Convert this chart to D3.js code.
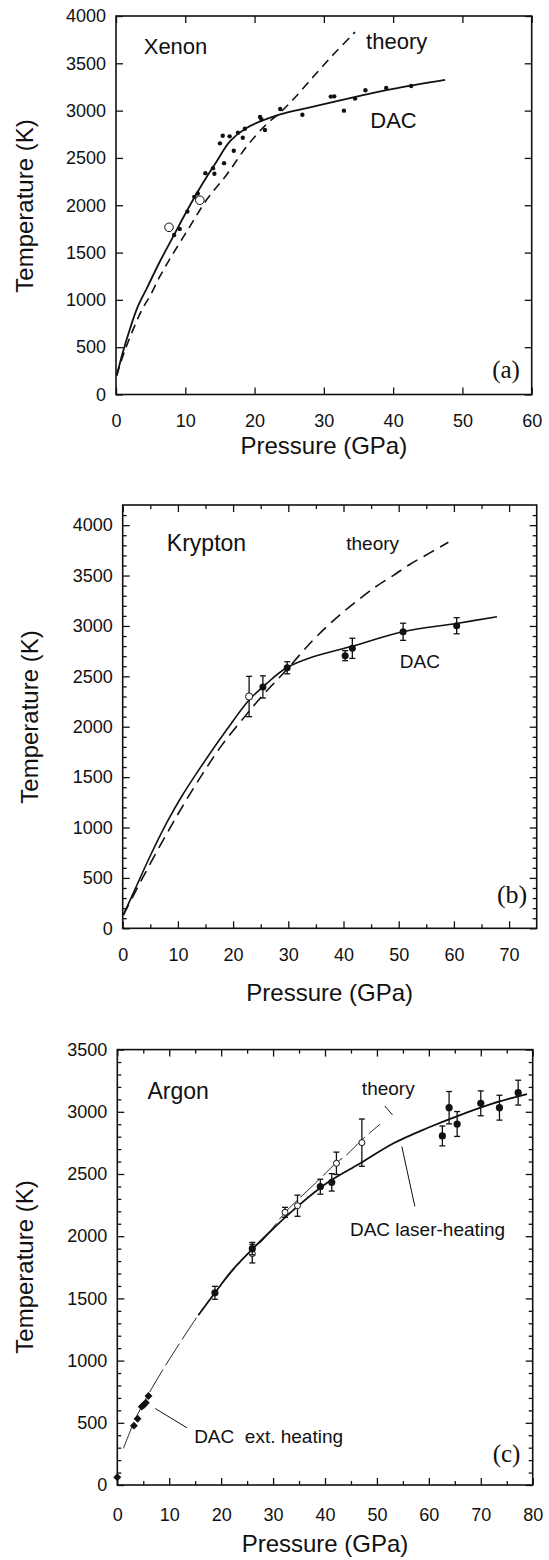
<!DOCTYPE html>
<html>
<head>
<meta charset="utf-8">
<script src="https://cdn.jsdelivr.net/npm/d3@7"></script>
<style>
  body { margin: 0; background: #fff; }
  text { font-family: 'Liberation Sans', Arial, Helvetica, sans-serif; fill: #111; }
  .serif { font-family: 'Liberation Serif', 'Times New Roman', serif; }
</style>
</head>
<body>
<div id="chart"></div>
<script>
// ---- (a) Xenon ----  [pressure GPa, temperature K]
const xenonDots = [
  [8.4, 1686], [9.2, 1750], [10.3, 1933], [11.3, 2089], [11.8, 2124], [12.9, 2339],
  [14.0, 2392], [14.2, 2333], [15.0, 2654], [15.4, 2735], [15.6, 2445], [16.4, 2728],
  [17.0, 2576], [17.6, 2767], [18.3, 2714], [18.6, 2809], [20.8, 2932], [21.0, 2908],
  [21.5, 2795], [23.7, 3017], [26.9, 2957], [31.0, 3148], [31.5, 3151], [32.9, 3000],
  [34.5, 3127], [36.0, 3215], [39.0, 3240], [42.6, 3261]
]
const xenonOpen = [[7.65, 1767], [12.1, 2053]]
const xenonDac = [
  [0.1, 200], [1, 450], [2, 690], [3.1, 920], [4.5, 1130], [6.3, 1400], [8.4, 1690],
  [10.3, 1950], [12.5, 2230], [14.5, 2460], [16.5, 2680], [18.9, 2820], [23.7, 2960],
  [28, 3035], [35.2, 3155], [40, 3230], [47.5, 3325]
]
const xenonTheory = [
  [0.1, 200], [1.3, 470], [3.7, 890], [4.9, 1040], [6.35, 1250], [8, 1460], [10.7, 1780],
  [13.1, 2060], [16, 2325], [18.9, 2625], [21.7, 2855], [23.7, 2980], [25.6, 3120],
  [28.5, 3360], [31.4, 3595], [34.5, 3830]
]

// ---- (b) Krypton ----  [pressure, temperature, error]
const kryptonDots = [
  [25.4, 2395, 110], [29.8, 2585, 60], [40.3, 2705, 50], [41.6, 2778, 100],
  [50.8, 2942, 85], [60.5, 3002, 80]
]
const kryptonOpen = [[22.9, 2300, 200]]
const kryptonDac = [
  [0.1, 130], [2.5, 420], [5, 720], [8.1, 1060], [10.7, 1310], [13.4, 1540], [18.8, 1967],
  [22.9, 2265], [26.1, 2430], [29.7, 2585], [34.5, 2694], [41.7, 2800], [50.7, 2942],
  [60.5, 3025], [67.8, 3091]
]
const kryptonTheory = [
  [0.1, 130], [3.7, 510], [8, 940], [11, 1225], [14.5, 1535], [18, 1820], [22.1, 2100],
  [25.5, 2320], [29.7, 2565], [34.5, 2860], [39.3, 3108], [44.2, 3323], [46, 3395],
  [49, 3500], [52, 3610], [55.5, 3720], [59, 3830]
]

// ---- (c) Argon ----
const argonDots = [
  [18.8, 1545, 52], [26.0, 1900, 50], [39.1, 2398, 60], [41.3, 2433, 70], [62.6, 2806, 80],
  [63.9, 3033, 130], [65.45, 2902, 100], [70.0, 3068, 100], [73.6, 3033, 100], [77.2, 3154, 100]
]
const argonOpen = [
  [26.0, 1860, 75], [32.3, 2192, 40], [34.7, 2245, 85], [42.2, 2586, 90], [47.1, 2752, 190]
]
const argonExt = [[0, 62], [3.2, 477], [3.9, 533], [4.7, 630], [5.1, 643], [5.5, 661], [6.0, 715]]
const argonDac = [
  [15.6, 1365], [18.8, 1545], [22, 1720], [26, 1895], [30, 2060], [33.9, 2210], [40.3, 2425],
  [46.8, 2586], [53.2, 2747], [59.6, 2868], [66, 2974], [72.4, 3068], [78.9, 3143]
]
const argonTheory = [
  [1.2, 295], [3.7, 550], [7.6, 845], [11.4, 1100], [15.6, 1365], [18.8, 1545], [22, 1710],
  [26, 1900], [27.5, 1945], [32.3, 2190], [34.7, 2290], [38, 2420], [42.2, 2590],
  [44.2, 2655], [47.1, 2775], [50.6, 2900]
]

const svg = d3.select('#chart').append('svg').attr('width', 549).attr('height', 1560)

function drawPanel(cfg) {
  const x = d3.scaleLinear().domain(cfg.xDomain).range([cfg.left, cfg.right])
  const y = d3.scaleLinear().domain(cfg.yDomain).range([cfg.bottom, cfg.top])
  const g = svg.append('g')

  const xMajor = d3.range(cfg.xDomain[0], cfg.xDomain[1] + 0.01, 10)
  const xMinor = d3.range(5, cfg.xDomain[1], 10)
  const yMajor = d3.range(0, cfg.yMax + 1, 500)
  const yMinor = d3.range(100, cfg.yDomain[1], 100).filter((v) => v % 500)

  const ax = (gen, tr, labels) => {
    const a = g.append('g').attr('transform', tr).call(gen)
    a.select('.domain').remove()
    a.selectAll('line').attr('stroke', '#111').attr('stroke-width', 1.3)
    a.selectAll('text').attr('font-size', 18).attr('font-family', null).attr('fill', '#111')
    if (!labels) a.selectAll('text').remove()
  }

  ax(d3.axisBottom(x).tickValues(xMajor).tickSize(-7).tickPadding(cfg.xPad).tickFormat(d3.format('d')), `translate(0,${cfg.bottom})`, true)
  ax(d3.axisTop(x).tickValues(xMajor).tickSize(-7), `translate(0,${cfg.top})`, false)
  ax(d3.axisLeft(y).tickValues(yMajor).tickSize(-7).tickPadding(10).tickFormat(d3.format('d')), `translate(${cfg.left},0)`, true)
  ax(d3.axisRight(y).tickValues(yMajor).tickSize(-7), `translate(${cfg.right},0)`, false)
  if (cfg.minor) {
    ax(d3.axisBottom(x).tickValues(xMinor).tickSize(-4), `translate(0,${cfg.bottom})`, false)
    ax(d3.axisTop(x).tickValues(xMinor).tickSize(-4), `translate(0,${cfg.top})`, false)
    ax(d3.axisLeft(y).tickValues(yMinor).tickSize(-4), `translate(${cfg.left},0)`, false)
    ax(d3.axisRight(y).tickValues(yMinor).tickSize(-4), `translate(${cfg.right},0)`, false)
  }

  g.append('rect')
    .attr('x', cfg.left).attr('y', cfg.top)
    .attr('width', cfg.right - cfg.left).attr('height', cfg.bottom - cfg.top)
    .attr('fill', 'none').attr('stroke', '#111').attr('stroke-width', 1.6)

  const line = d3.line().x((d) => x(d[0])).y((d) => y(d[1])).curve(d3.curveCatmullRom.alpha(0.5))

  cfg.lines.forEach((l) => {
    g.append('path')
      .attr('d', line(l.data))
      .attr('fill', 'none')
      .attr('stroke', '#111')
      .attr('stroke-width', l.width)
      .attr('stroke-dasharray', l.dash || null)
  })

  // leader lines
  ;(cfg.leaders || []).forEach((l) => {
    g.append('line')
      .attr('x1', x(l[0][0])).attr('y1', y(l[0][1]))
      .attr('x2', x(l[1][0])).attr('y2', y(l[1][1]))
      .attr('stroke', '#111').attr('stroke-width', 1)
  })

  cfg.markers.forEach((m) => {
    const withErr = m.data.filter((d) => d.length > 2)
    const eb = g.append('g').attr('stroke', '#111').attr('stroke-width', 1.3)
    eb.selectAll('.v').data(withErr).join('line')
      .attr('x1', (d) => x(d[0])).attr('x2', (d) => x(d[0]))
      .attr('y1', (d) => y(d[1] - d[2])).attr('y2', (d) => y(d[1] + d[2]))
    eb.selectAll('.t').data(withErr.flatMap((d) => [[d[0], d[1] + d[2]], [d[0], d[1] - d[2]]])).join('line')
      .attr('x1', (d) => x(d[0]) - 3).attr('x2', (d) => x(d[0]) + 3)
      .attr('y1', (d) => y(d[1])).attr('y2', (d) => y(d[1]))

    if (m.shape === 'diamond') {
      g.append('g').selectAll('path').data(m.data).join('path')
        .attr('d', d3.symbol(d3.symbolDiamond2, 40))
        .attr('transform', (d) => `translate(${x(d[0])},${y(d[1])})`)
        .attr('fill', '#111')
    } else {
      g.append('g').selectAll('circle').data(m.data).join('circle')
        .attr('cx', (d) => x(d[0])).attr('cy', (d) => y(d[1]))
        .attr('r', m.r)
        .attr('fill', m.open ? '#fff' : '#111')
        .attr('stroke', '#111').attr('stroke-width', m.open ? 1 : 0)
    }
  })

  cfg.labels.forEach((l) => {
    g.append('text')
      .attr('x', x(l.at[0])).attr('y', y(l.at[1]))
      .attr('font-size', l.size)
      .attr('class', l.serif ? 'serif' : null)
      .attr('xml:space', 'preserve')
      .style('white-space', 'pre')
      .text(l.text)
  })

  g.append('text')
    .attr('x', (cfg.left + cfg.right) / 2 + cfg.xTitleShift)
    .attr('y', cfg.xTitleY)
    .attr('text-anchor', 'middle')
    .attr('font-size', 24)
    .text('Pressure (GPa)')

  g.append('text')
    .attr('transform', `translate(${cfg.yTitleX},${cfg.yTitleY}) rotate(-90)`)
    .attr('text-anchor', 'middle')
    .attr('font-size', 24)
    .text('Temperature (K)')
}

drawPanel({
  xDomain: [0, 60], yDomain: [0, 4000], yMax: 4000,
  left: 116, right: 531.7, top: 16, bottom: 394.5,
  minor: false, xPad: 20,
  xTitleY: 454, xTitleShift: 0, yTitleX: 33, yTitleY: 206,
  lines: [
    { data: xenonTheory, width: 1.6, dash: '9,6' },
    { data: xenonDac, width: 1.8 }
  ],
  markers: [
    { data: xenonDots, r: 2.2 },
    { data: xenonOpen, r: 4.3, open: true }
  ],
  labels: [
    { text: 'Xenon', at: [4, 3600], size: 22 },
    { text: 'theory', at: [36.1, 3650], size: 22 },
    { text: 'DAC', at: [36.7, 2815], size: 22 },
    { text: '(a)', at: [54.3, 178], size: 25, serif: true }
  ]
})

drawPanel({
  xDomain: [0, 75], yDomain: [0, 4200], yMax: 4000,
  left: 122.7, right: 536.7, top: 505, bottom: 928.3,
  minor: true, xPad: 20,
  xTitleY: 1001, xTitleShift: 0, yTitleX: 38, yTitleY: 717,
  lines: [
    { data: kryptonTheory, width: 1.6, dash: '12,7' },
    { data: kryptonDac, width: 1.6 }
  ],
  markers: [
    { data: kryptonOpen, r: 3.6, open: true },
    { data: kryptonDots, r: 3.5 }
  ],
  labels: [
    { text: 'Krypton', at: [8, 3745], size: 23 },
    { text: 'theory', at: [40.5, 3750], size: 19 },
    { text: 'DAC', at: [50.2, 2580], size: 19 },
    { text: '(b)', at: [67.8, 250], size: 26, serif: true }
  ]
})

drawPanel({
  xDomain: [0, 80], yDomain: [0, 3500], yMax: 3500,
  left: 117.3, right: 532.7, top: 1049.6, bottom: 1485,
  minor: true, xPad: 23,
  xTitleY: 1552, xTitleShift: 0, yTitleX: 33, yTitleY: 1267,
  lines: [
    { data: argonTheory, width: 0.9, dash: '26,5' },
    { data: argonDac, width: 1.8 }
  ],
  leaders: [
    [[51.5, 3047], [53.0, 2975]],
    [[54.8, 2720], [57.3, 2240]],
    [[7.3, 615], [13.4, 460]]
  ],
  markers: [
    { data: argonOpen, r: 3, open: true },
    { data: argonDots, r: 3.6 },
    { data: argonExt, shape: 'diamond' }
  ],
  labels: [
    { text: 'Argon', at: [5.8, 3100], size: 23 },
    { text: 'theory', at: [47.1, 3135], size: 19 },
    { text: 'DAC laser-heating', at: [44.8, 2000], size: 19 },
    { text: 'DAC  ext. heating', at: [14.8, 340], size: 19 },
    { text: '(c)', at: [72.3, 187], size: 25, serif: true }
  ]
})
</script>
</body>
</html>
